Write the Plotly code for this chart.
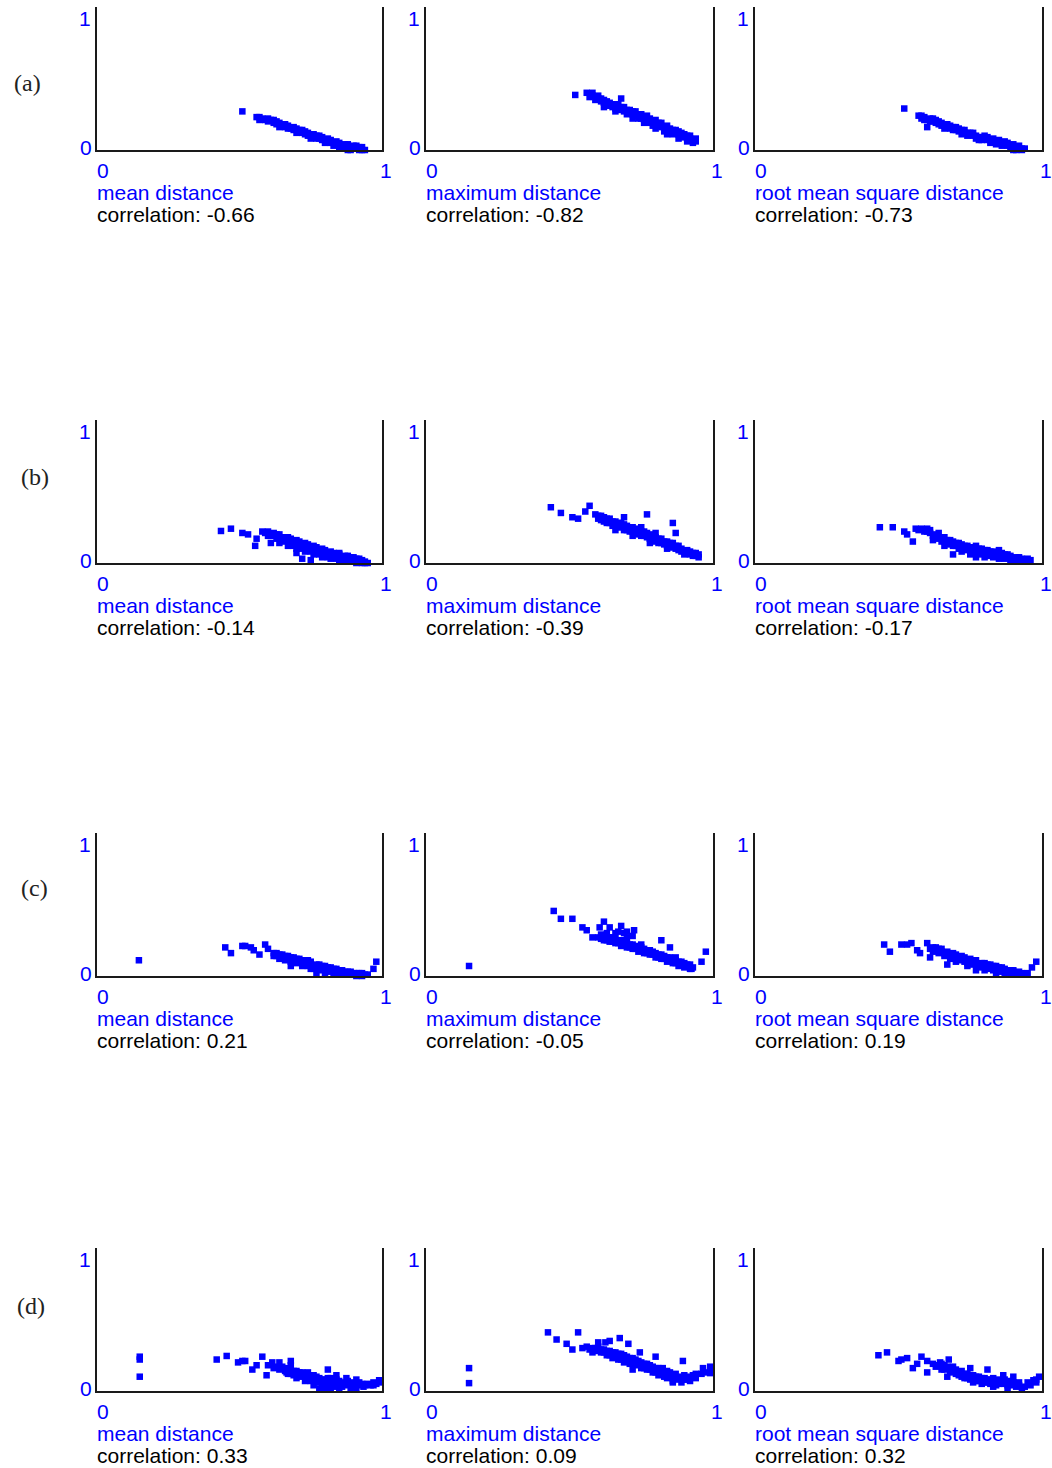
import plotly.graph_objects as go

# ---------------------------------------------------------------------------
# Data: each panel is a list of (normalised distance, normalised value) pairs
# ---------------------------------------------------------------------------
a_mean = [(0.51,0.27),(0.56,0.23),(0.57,0.21),(0.58,0.22),(0.59,0.21),(0.60,0.20),(0.61,0.21),
          (0.62,0.19),(0.63,0.18),(0.64,0.19),(0.65,0.17),(0.66,0.16),(0.67,0.17),(0.68,0.15),
          (0.69,0.14),(0.70,0.15),(0.71,0.13),(0.72,0.12),(0.73,0.11),(0.74,0.12),(0.75,0.10),
          (0.76,0.09),(0.77,0.10),(0.78,0.08),(0.79,0.07),(0.80,0.07),(0.81,0.06),(0.82,0.05),
          (0.83,0.05),(0.84,0.04),(0.85,0.04),(0.86,0.03),(0.87,0.03),(0.88,0.02),(0.89,0.02),
          (0.90,0.01),(0.91,0.01),(0.92,0.01),(0.93,0.00),(0.94,0.00),(0.64,0.16),(0.70,0.12),
          (0.75,0.08),(0.80,0.05),(0.85,0.02),(0.88,0.00),(0.92,0.00),
          (0.57,0.23),(0.60,0.22),(0.62,0.21),(0.63,0.20),(0.66,0.18),(0.67,0.15),(0.69,0.16),
          (0.71,0.14),(0.72,0.14),(0.73,0.13),(0.74,0.10),(0.76,0.11),(0.77,0.08),(0.78,0.10),
          (0.79,0.09),(0.81,0.08),(0.82,0.07),(0.83,0.03),(0.84,0.06),(0.85,0.05),(0.86,0.01),
          (0.87,0.04),(0.88,0.04),(0.89,0.00),(0.90,0.03),(0.91,0.03),(0.92,0.02),(0.93,0.02)]
a_max = [(0.52,0.385),(0.56,0.40),(0.57,0.37),(0.58,0.38),(0.59,0.35),(0.60,0.36),(0.61,0.34),
         (0.62,0.33),(0.63,0.34),(0.64,0.31),(0.65,0.30),(0.66,0.31),(0.67,0.29),(0.68,0.36),
         (0.68,0.28),(0.69,0.27),(0.70,0.28),(0.71,0.26),(0.72,0.25),(0.73,0.24),(0.74,0.25),
         (0.75,0.22),(0.76,0.23),(0.77,0.21),(0.78,0.19),(0.79,0.20),(0.80,0.18),(0.81,0.17),
         (0.82,0.16),(0.83,0.16),(0.84,0.14),(0.85,0.13),(0.86,0.14),(0.87,0.12),(0.88,0.11),
         (0.89,0.12),(0.90,0.09),(0.91,0.10),(0.92,0.08),(0.93,0.07),(0.94,0.06),(0.62,0.30),
         (0.66,0.27),(0.72,0.22),(0.76,0.19),(0.80,0.15),(0.84,0.11),(0.88,0.08),(0.91,0.06),
         (0.58,0.40),(0.60,0.38),(0.61,0.36),(0.62,0.35),(0.63,0.31),(0.64,0.33),(0.65,0.32),
         (0.66,0.29),(0.67,0.32),(0.68,0.30),(0.69,0.30),(0.70,0.25),(0.71,0.28),(0.72,0.27),
         (0.73,0.27),(0.74,0.22),(0.75,0.25),(0.76,0.21),(0.77,0.24),(0.78,0.22),(0.79,0.17),
         (0.80,0.21),(0.81,0.19),(0.82,0.19),(0.83,0.13),(0.84,0.17),(0.85,0.15),(0.86,0.11),
         (0.87,0.14),(0.88,0.13),(0.89,0.09),(0.90,0.11),(0.91,0.08),(0.92,0.10),(0.93,0.05),
         (0.94,0.08)]
a_rms = [(0.52,0.29),(0.57,0.24),(0.58,0.22),(0.59,0.23),(0.60,0.21),(0.60,0.16),(0.61,0.22),
         (0.62,0.20),(0.63,0.19),(0.64,0.18),(0.65,0.19),(0.66,0.17),(0.67,0.16),(0.68,0.15),
         (0.69,0.16),(0.70,0.14),(0.71,0.13),(0.72,0.14),(0.73,0.12),(0.74,0.12),(0.75,0.11),
         (0.76,0.10),(0.77,0.10),(0.78,0.09),(0.79,0.09),(0.80,0.08),(0.81,0.07),(0.82,0.07),
         (0.83,0.06),(0.84,0.06),(0.85,0.05),(0.86,0.05),(0.87,0.04),(0.88,0.03),(0.89,0.03),
         (0.90,0.02),(0.91,0.02),(0.92,0.01),(0.93,0.01),(0.94,0.01),(0.66,0.15),(0.72,0.11),
         (0.78,0.07),(0.84,0.04),(0.90,0.00),
         (0.58,0.24),(0.59,0.21),(0.61,0.20),(0.62,0.22),(0.63,0.21),(0.64,0.20),(0.65,0.17),
         (0.67,0.18),(0.68,0.17),(0.69,0.14),(0.70,0.16),(0.71,0.15),(0.73,0.14),(0.74,0.10),
         (0.75,0.12),(0.76,0.12),(0.77,0.08),(0.79,0.07),(0.80,0.10),(0.81,0.09),(0.82,0.05),
         (0.83,0.08),(0.85,0.07),(0.86,0.03),(0.87,0.06),(0.88,0.05),(0.89,0.01),(0.90,0.04),
         (0.91,0.00),(0.92,0.03),(0.93,0.00)]

b_mean = [(0.435,0.224),(0.47,0.24),(0.51,0.21),(0.53,0.20),(0.555,0.12),(0.56,0.17),(0.58,0.22),
          (0.61,0.14),(0.70,0.07),(0.72,0.03),(0.59,0.21),(0.60,0.22),(0.61,0.20),(0.62,0.19),
          (0.63,0.20),(0.64,0.18),(0.65,0.17),(0.66,0.18),(0.67,0.16),(0.68,0.17),(0.69,0.15),
          (0.70,0.14),(0.71,0.15),(0.72,0.13),(0.73,0.12),(0.74,0.13),(0.75,0.11),(0.76,0.10),
          (0.77,0.11),(0.78,0.09),(0.79,0.08),(0.80,0.09),(0.81,0.07),(0.82,0.06),(0.83,0.07),
          (0.84,0.05),(0.85,0.06),(0.86,0.04),(0.87,0.05),(0.88,0.03),(0.89,0.04),(0.90,0.02),
          (0.91,0.03),(0.92,0.01),(0.93,0.02),(0.94,0.01),(0.95,0.00),(0.64,0.14),(0.67,0.12),
          (0.70,0.10),(0.73,0.08),(0.76,0.06),(0.79,0.04),(0.82,0.03),(0.85,0.02),(0.88,0.01),
          (0.91,0.00),(0.75,0.02),
          (0.60,0.19),(0.62,0.21),(0.63,0.17),(0.64,0.20),(0.65,0.15),(0.66,0.16),(0.67,0.18),
          (0.68,0.14),(0.69,0.12),(0.70,0.16),(0.71,0.12),(0.72,0.10),(0.73,0.14),(0.74,0.10),
          (0.75,0.08),(0.76,0.12),(0.77,0.08),(0.78,0.06),(0.79,0.10),(0.80,0.06),(0.81,0.04),
          (0.82,0.08),(0.83,0.04),(0.84,0.03),(0.85,0.07),(0.86,0.02),(0.87,0.03),(0.88,0.05),
          (0.89,0.01),(0.90,0.04),(0.92,0.03),(0.94,0.00),(0.93,0.00)]
b_max = [(0.435,0.39),(0.47,0.35),(0.51,0.32),(0.53,0.31),(0.555,0.36),(0.57,0.40),(0.69,0.32),
         (0.77,0.34),(0.86,0.28),(0.87,0.21),(0.59,0.34),(0.60,0.31),(0.61,0.33),(0.62,0.29),
         (0.63,0.31),(0.64,0.28),(0.65,0.29),(0.66,0.26),(0.67,0.28),(0.68,0.25),(0.69,0.27),
         (0.70,0.23),(0.71,0.25),(0.72,0.22),(0.73,0.24),(0.74,0.20),(0.75,0.22),(0.76,0.19),
         (0.77,0.21),(0.78,0.17),(0.79,0.19),(0.80,0.15),(0.81,0.17),(0.82,0.14),(0.83,0.15),
         (0.84,0.12),(0.85,0.14),(0.86,0.11),(0.87,0.12),(0.88,0.09),(0.89,0.10),(0.90,0.08),
         (0.91,0.09),(0.92,0.06),(0.93,0.07),(0.94,0.05),(0.95,0.06),(0.66,0.23),(0.72,0.19),
         (0.78,0.14),(0.84,0.10),(0.90,0.06),(0.64,0.31),(0.75,0.25),(0.80,0.21),
         (0.60,0.33),(0.61,0.30),(0.62,0.32),(0.63,0.28),(0.65,0.26),(0.66,0.29),(0.67,0.25),
         (0.68,0.28),(0.69,0.23),(0.70,0.26),(0.71,0.22),(0.72,0.25),(0.73,0.21),(0.74,0.23),
         (0.75,0.19),(0.76,0.22),(0.77,0.18),(0.78,0.20),(0.79,0.16),(0.80,0.18),(0.81,0.14),
         (0.82,0.17),(0.83,0.13),(0.84,0.15),(0.85,0.11),(0.86,0.14),(0.87,0.10),(0.88,0.12),
         (0.89,0.08),(0.91,0.07),(0.92,0.08),(0.93,0.05),(0.94,0.07),(0.95,0.04)]
b_rms = [(0.435,0.25),(0.48,0.25),(0.52,0.22),(0.53,0.20),(0.55,0.15),(0.56,0.24),(0.57,0.23),
         (0.58,0.24),(0.59,0.22),(0.60,0.24),(0.61,0.21),(0.62,0.19),(0.62,0.16),(0.63,0.20),
         (0.64,0.17),(0.65,0.18),(0.66,0.15),(0.67,0.16),(0.68,0.14),(0.69,0.15),(0.69,0.06),
         (0.70,0.12),(0.71,0.14),(0.72,0.11),(0.73,0.12),(0.74,0.10),(0.75,0.11),(0.76,0.09),
         (0.77,0.12),(0.77,0.04),(0.78,0.08),(0.79,0.10),(0.80,0.07),(0.81,0.09),(0.82,0.06),
         (0.83,0.08),(0.84,0.05),(0.85,0.09),(0.86,0.05),(0.87,0.06),(0.88,0.04),(0.89,0.05),
         (0.90,0.03),(0.91,0.04),(0.92,0.02),(0.93,0.03),(0.94,0.02),(0.95,0.03),(0.96,0.02),
         (0.72,0.08),(0.75,0.06),(0.80,0.04),(0.85,0.03),(0.90,0.02),(0.66,0.12),
         (0.60,0.22),(0.61,0.23),(0.63,0.18),(0.64,0.21),(0.65,0.15),(0.66,0.18),(0.67,0.13),
         (0.68,0.16),(0.69,0.12),(0.70,0.14),(0.71,0.10),(0.72,0.13),(0.73,0.09),(0.74,0.12),
         (0.75,0.08),(0.76,0.11),(0.77,0.07),(0.78,0.10),(0.79,0.06),(0.80,0.09),(0.81,0.05),
         (0.82,0.08),(0.83,0.04),(0.84,0.07),(0.86,0.07),(0.87,0.03),(0.88,0.06),(0.89,0.02),
         (0.91,0.01),(0.92,0.04),(0.93,0.01),(0.95,0.01)]

c_mean = [(0.147,0.11),(0.45,0.20),(0.47,0.16),(0.51,0.21),(0.52,0.21),(0.54,0.20),(0.55,0.18),
          (0.57,0.15),(0.59,0.22),(0.60,0.19),(0.98,0.10),(0.97,0.05),(0.62,0.16),(0.63,0.14),
          (0.64,0.15),(0.65,0.13),(0.66,0.14),(0.67,0.12),(0.68,0.13),(0.68,0.07),(0.69,0.11),
          (0.70,0.12),(0.71,0.10),(0.72,0.11),(0.73,0.09),(0.74,0.11),(0.75,0.08),(0.76,0.07),
          (0.77,0.08),(0.77,0.02),(0.78,0.06),(0.79,0.07),(0.80,0.05),(0.81,0.06),(0.82,0.04),
          (0.83,0.05),(0.84,0.03),(0.85,0.04),(0.86,0.02),(0.87,0.03),(0.88,0.02),(0.89,0.03),
          (0.90,0.01),(0.91,0.02),(0.92,0.01),(0.93,0.02),(0.94,0.01),(0.95,0.01),(0.72,0.07),
          (0.75,0.05),(0.80,0.02),(0.84,0.01),
          (0.62,0.14),(0.63,0.16),(0.64,0.12),(0.65,0.15),(0.66,0.11),(0.67,0.14),(0.68,0.10),
          (0.69,0.13),(0.70,0.09),(0.71,0.12),(0.72,0.09),(0.73,0.11),(0.74,0.07),(0.75,0.10),
          (0.76,0.05),(0.77,0.06),(0.78,0.08),(0.79,0.04),(0.80,0.07),(0.81,0.03),(0.82,0.06),
          (0.83,0.02),(0.84,0.05),(0.85,0.01),(0.86,0.04),(0.87,0.01),(0.88,0.03),(0.89,0.01),
          (0.90,0.02),(0.91,0.00),(0.92,0.02),(0.93,0.00)]
c_max = [(0.15,0.07),(0.445,0.455),(0.47,0.40),(0.51,0.40),(0.545,0.34),(0.56,0.32),(0.58,0.27),
         (0.62,0.38),(0.605,0.34),(0.64,0.34),(0.68,0.35),(0.70,0.31),(0.725,0.32),(0.82,0.25),
         (0.85,0.20),(0.975,0.17),(0.96,0.10),(0.60,0.27),(0.61,0.26),(0.62,0.28),(0.63,0.25),
         (0.64,0.27),(0.65,0.24),(0.66,0.26),(0.67,0.23),(0.68,0.25),(0.69,0.22),(0.70,0.23),
         (0.71,0.20),(0.72,0.22),(0.73,0.19),(0.74,0.20),(0.75,0.18),(0.76,0.19),(0.77,0.16),
         (0.78,0.18),(0.79,0.15),(0.80,0.16),(0.81,0.13),(0.82,0.15),(0.83,0.12),(0.84,0.13),
         (0.85,0.11),(0.86,0.12),(0.87,0.09),(0.88,0.10),(0.89,0.08),(0.90,0.09),(0.91,0.07),
         (0.92,0.08),(0.93,0.06),(0.925,0.05),(0.87,0.13),(0.66,0.30),(0.70,0.27),(0.63,0.30),
         (0.75,0.22),
         (0.61,0.29),(0.62,0.25),(0.63,0.27),(0.64,0.24),(0.65,0.27),(0.66,0.23),(0.67,0.25),
         (0.68,0.21),(0.69,0.24),(0.70,0.20),(0.71,0.22),(0.72,0.19),(0.73,0.21),(0.74,0.17),
         (0.75,0.20),(0.76,0.16),(0.77,0.18),(0.78,0.15),(0.79,0.17),(0.80,0.13),(0.81,0.15),
         (0.82,0.12),(0.83,0.14),(0.84,0.10),(0.85,0.13),(0.86,0.09),(0.87,0.11),(0.88,0.07),
         (0.89,0.10),(0.90,0.06),(0.91,0.08),(0.92,0.05),(0.67,0.31),(0.69,0.30),(0.72,0.28)]
c_rms = [(0.45,0.22),(0.47,0.17),(0.51,0.22),(0.53,0.22),(0.545,0.23),(0.565,0.18),(0.575,0.16),
         (0.60,0.23),(0.61,0.13),(0.98,0.10),(0.965,0.06),(0.61,0.19),(0.62,0.20),(0.63,0.18),
         (0.64,0.19),(0.65,0.17),(0.66,0.16),(0.67,0.17),(0.67,0.08),(0.68,0.15),(0.69,0.14),
         (0.70,0.15),(0.71,0.13),(0.72,0.12),(0.73,0.13),(0.74,0.11),(0.75,0.10),(0.76,0.11),
         (0.77,0.09),(0.77,0.04),(0.78,0.08),(0.79,0.09),(0.80,0.07),(0.81,0.08),(0.82,0.06),
         (0.83,0.07),(0.84,0.05),(0.85,0.06),(0.86,0.04),(0.87,0.05),(0.88,0.03),(0.89,0.04),
         (0.90,0.03),(0.91,0.02),(0.92,0.03),(0.93,0.02),(0.94,0.01),(0.95,0.02),(0.70,0.10),
         (0.74,0.07),(0.80,0.04),(0.84,0.02),
         (0.62,0.17),(0.63,0.20),(0.64,0.16),(0.65,0.19),(0.66,0.14),(0.67,0.15),(0.68,0.12),
         (0.69,0.16),(0.70,0.12),(0.71,0.11),(0.72,0.14),(0.73,0.10),(0.74,0.09),(0.75,0.12),
         (0.76,0.08),(0.77,0.11),(0.78,0.06),(0.79,0.07),(0.80,0.09),(0.81,0.05),(0.82,0.08),
         (0.83,0.04),(0.84,0.07),(0.85,0.03),(0.86,0.06),(0.87,0.02),(0.88,0.04),(0.89,0.02),
         (0.90,0.04),(0.91,0.01),(0.92,0.01),(0.93,0.01)]

d_mean = [(0.15,0.24),(0.15,0.22),(0.15,0.10),(0.42,0.22),(0.455,0.245),(0.495,0.20),(0.51,0.21),
          (0.52,0.21),(0.545,0.15),(0.58,0.24),(0.56,0.18),(0.595,0.11),(0.615,0.20),(0.64,0.20),
          (0.68,0.21),(0.68,0.18),(0.63,0.17),(0.64,0.15),(0.65,0.17),(0.66,0.14),(0.665,0.13),
          (0.67,0.15),(0.68,0.12),(0.69,0.14),(0.70,0.12),(0.71,0.13),(0.72,0.11),(0.73,0.12),
          (0.74,0.13),(0.74,0.09),(0.75,0.10),(0.76,0.08),(0.77,0.10),(0.78,0.06),(0.78,0.015),
          (0.79,0.08),(0.80,0.05),(0.81,0.15),(0.81,0.09),(0.82,0.02),(0.82,0.06),(0.83,0.08),
          (0.84,0.11),(0.84,0.04),(0.85,0.07),(0.86,0.03),(0.875,0.09),(0.88,0.05),(0.89,0.02),
          (0.90,0.06),(0.91,0.08),(0.92,0.04),(0.935,0.03),(0.95,0.05),(0.97,0.06),(0.99,0.075),
          (0.98,0.05),(0.76,0.04),(0.80,0.02),(0.73,0.07),(0.70,0.09),
          (0.66,0.16),(0.67,0.12),(0.69,0.11),(0.70,0.14),(0.71,0.10),(0.72,0.13),(0.73,0.10),
          (0.74,0.11),(0.75,0.07),(0.76,0.11),(0.77,0.06),(0.78,0.09),(0.79,0.04),(0.80,0.08),
          (0.81,0.05),(0.82,0.09),(0.83,0.03),(0.84,0.08),(0.85,0.02),(0.86,0.06),(0.87,0.04),
          (0.88,0.07),(0.89,0.05),(0.90,0.03),(0.91,0.02),(0.92,0.06),(0.93,0.05),(0.94,0.04),
          (0.96,0.04),(0.97,0.04),(0.99,0.06),(0.62,0.16),(0.60,0.18)]
d_max = [(0.15,0.16),(0.15,0.055),(0.425,0.41),(0.455,0.36),(0.49,0.33),(0.51,0.29),(0.53,0.41),
         (0.545,0.30),(0.58,0.27),(0.60,0.34),(0.625,0.34),(0.64,0.35),(0.675,0.37),(0.705,0.33),
         (0.99,0.17),(0.99,0.125),(0.965,0.16),(0.56,0.31),(0.57,0.29),(0.59,0.30),(0.60,0.28),
         (0.61,0.29),(0.62,0.27),(0.63,0.28),(0.64,0.25),(0.65,0.27),(0.66,0.24),(0.67,0.26),
         (0.68,0.22),(0.685,0.23),(0.69,0.25),(0.70,0.21),(0.71,0.23),(0.72,0.15),(0.72,0.20),
         (0.73,0.22),(0.74,0.19),(0.745,0.27),(0.75,0.20),(0.755,0.18),(0.76,0.16),(0.77,0.19),
         (0.78,0.15),(0.79,0.17),(0.80,0.24),(0.80,0.13),(0.81,0.16),(0.82,0.12),(0.825,0.16),
         (0.83,0.10),(0.84,0.14),(0.85,0.11),(0.86,0.06),(0.86,0.09),(0.87,0.12),(0.88,0.08),
         (0.895,0.21),(0.895,0.09),(0.90,0.11),(0.91,0.08),(0.93,0.11),(0.94,0.09),(0.96,0.12),
         (0.58,0.30),(0.60,0.31),(0.61,0.27),(0.62,0.29),(0.63,0.25),(0.64,0.28),(0.65,0.23),
         (0.66,0.27),(0.67,0.22),(0.68,0.26),(0.69,0.20),(0.70,0.24),(0.71,0.19),(0.72,0.23),
         (0.73,0.18),(0.74,0.21),(0.75,0.16),(0.76,0.19),(0.77,0.15),(0.78,0.18),(0.79,0.13),
         (0.80,0.16),(0.81,0.11),(0.82,0.14),(0.83,0.12),(0.84,0.09),(0.85,0.13),(0.86,0.07),
         (0.87,0.09),(0.88,0.10),(0.89,0.06),(0.90,0.08),(0.91,0.10),(0.92,0.07),(0.94,0.12),
         (0.97,0.13),(0.99,0.14)]
d_rms = [(0.43,0.25),(0.46,0.27),(0.50,0.21),(0.51,0.22),(0.53,0.23),(0.55,0.16),(0.58,0.24),
         (0.565,0.19),(0.60,0.21),(0.60,0.13),(0.62,0.19),(0.63,0.17),(0.645,0.20),(0.65,0.15),
         (0.66,0.18),(0.675,0.22),(0.68,0.16),(0.67,0.10),(0.69,0.14),(0.70,0.12),(0.715,0.13),
         (0.72,0.10),(0.73,0.12),(0.74,0.09),(0.75,0.16),(0.75,0.11),(0.76,0.06),(0.76,0.08),
         (0.77,0.10),(0.78,0.07),(0.79,0.09),(0.80,0.06),(0.81,0.15),(0.81,0.08),(0.82,0.05),
         (0.83,0.09),(0.83,0.03),(0.84,0.06),(0.85,0.08),(0.865,0.11),(0.87,0.05),(0.88,0.04),
         (0.89,0.07),(0.90,0.10),(0.91,0.05),(0.92,0.04),(0.93,0.02),(0.95,0.06),(0.97,0.075),
         (0.99,0.10),(0.98,0.06),
         (0.64,0.18),(0.65,0.19),(0.66,0.15),(0.67,0.17),(0.68,0.13),(0.69,0.17),(0.70,0.15),
         (0.71,0.11),(0.72,0.14),(0.73,0.09),(0.74,0.12),(0.75,0.08),(0.76,0.11),(0.77,0.07),
         (0.78,0.10),(0.79,0.05),(0.80,0.09),(0.81,0.06),(0.82,0.08),(0.83,0.06),(0.84,0.04),
         (0.85,0.05),(0.86,0.07),(0.87,0.08),(0.88,0.02),(0.89,0.04),(0.90,0.06),(0.91,0.03),
         (0.92,0.06),(0.94,0.03),(0.96,0.04),(0.98,0.08)]

panels = [[a_mean, a_max, a_rms],
          [b_mean, b_max, b_rms],
          [c_mean, c_max, c_rms],
          [d_mean, d_max, d_rms]]

row_labels = ["(a)", "(b)", "(c)", "(d)"]
measure_names = ["mean distance", "maximum distance", "root mean square distance"]
correlations = [[-0.66, -0.82, -0.73],
                [-0.14, -0.39, -0.17],
                [0.21, -0.05, 0.19],
                [0.33, 0.09, 0.32]]
tick_labels = ["0", "1"]

# ---------------------------------------------------------------------------
# Layout geometry (pixels)
# ---------------------------------------------------------------------------
W, H = 1052, 1468
col_left = [97, 426, 755]
col_right = [382, 713, 1042]
row_top = [7, 420, 833, 1248]
row_bottom = [150, 563, 976, 1391]
row_label_pos = [(27, 83), (35, 477), (34, 888), (31, 1306)]

BLUE = "#0000ff"
AXIS = "#1a1a1a"
SANS = "Liberation Sans, Arial, sans-serif"
SERIF = "Liberation Serif, Times New Roman, serif"
FS = 21

fig = go.Figure()
annotations = []
layout_axes = {}

k = 0
for r in range(4):
    for c in range(3):
        k += 1
        sfx = "" if k == 1 else str(k)
        xname, yname = f"xaxis{sfx}", f"yaxis{sfx}"
        xref, yref = f"x{sfx}", f"y{sfx}"
        pts = panels[r][c]
        fig.add_trace(go.Scatter(
            x=[p[0] for p in pts], y=[p[1] for p in pts],
            mode="markers", xaxis=xref, yaxis=yref, cliponaxis=False,
            marker=dict(symbol="square", size=6.5, color=BLUE, line=dict(width=0)),
            showlegend=False, hoverinfo="skip"))
        layout_axes[xname] = dict(
            domain=[col_left[c] / W, col_right[c] / W], range=[0, 1],
            anchor=yref, showgrid=False, zeroline=False, showticklabels=False,
            ticks="", showline=True, linecolor=AXIS, linewidth=2, fixedrange=True)
        layout_axes[yname] = dict(
            domain=[1 - row_bottom[r] / H, 1 - row_top[r] / H], range=[0, 1],
            anchor=xref, showgrid=False, zeroline=False, showticklabels=False,
            ticks="", showline=True, mirror=True, linecolor=AXIS, linewidth=2,
            fixedrange=True)

        tf = dict(family=SANS, size=FS, color=BLUE)
        # y tick labels
        annotations.append(dict(xref=xref, yref=yref, x=0, y=1, text=tick_labels[1],
                                xanchor="right", yanchor="middle", xshift=-4, yshift=-11,
                                showarrow=False, font=tf))
        annotations.append(dict(xref=xref, yref=yref, x=0, y=0, text=tick_labels[0],
                                xanchor="right", yanchor="middle", xshift=-3, yshift=3,
                                showarrow=False, font=tf))
        # x tick labels
        annotations.append(dict(xref=xref, yref=yref, x=0, y=0, text=tick_labels[0],
                                xanchor="left", yanchor="middle", xshift=-2, yshift=-20,
                                showarrow=False, font=tf))
        annotations.append(dict(xref=xref, yref=yref, x=1, y=0, text=tick_labels[1],
                                xanchor="left", yanchor="middle", xshift=-4, yshift=-20,
                                showarrow=False, font=tf))
        # measure name and correlation
        annotations.append(dict(xref=xref, yref=yref, x=0, y=0, text=measure_names[c],
                                xanchor="left", yanchor="middle", xshift=-2, yshift=-42,
                                showarrow=False, font=tf))
        annotations.append(dict(xref=xref, yref=yref, x=0, y=0,
                                text=f"correlation: {correlations[r][c]:.2f}",
                                xanchor="left", yanchor="middle", xshift=-2, yshift=-64,
                                showarrow=False, font=dict(family=SANS, size=FS, color="#000000")))

for lbl, (px, py) in zip(row_labels, row_label_pos):
    annotations.append(dict(xref="paper", yref="paper", x=px / W, y=1 - py / H, text=lbl,
                            xanchor="center", yanchor="middle", showarrow=False,
                            font=dict(family=SERIF, size=24, color="#222222")))

fig.update_layout(
    width=W, height=H, margin=dict(l=0, r=0, t=0, b=0),
    paper_bgcolor="white", plot_bgcolor="white",
    annotations=annotations, **layout_axes)

fig.write_html("out.html")
